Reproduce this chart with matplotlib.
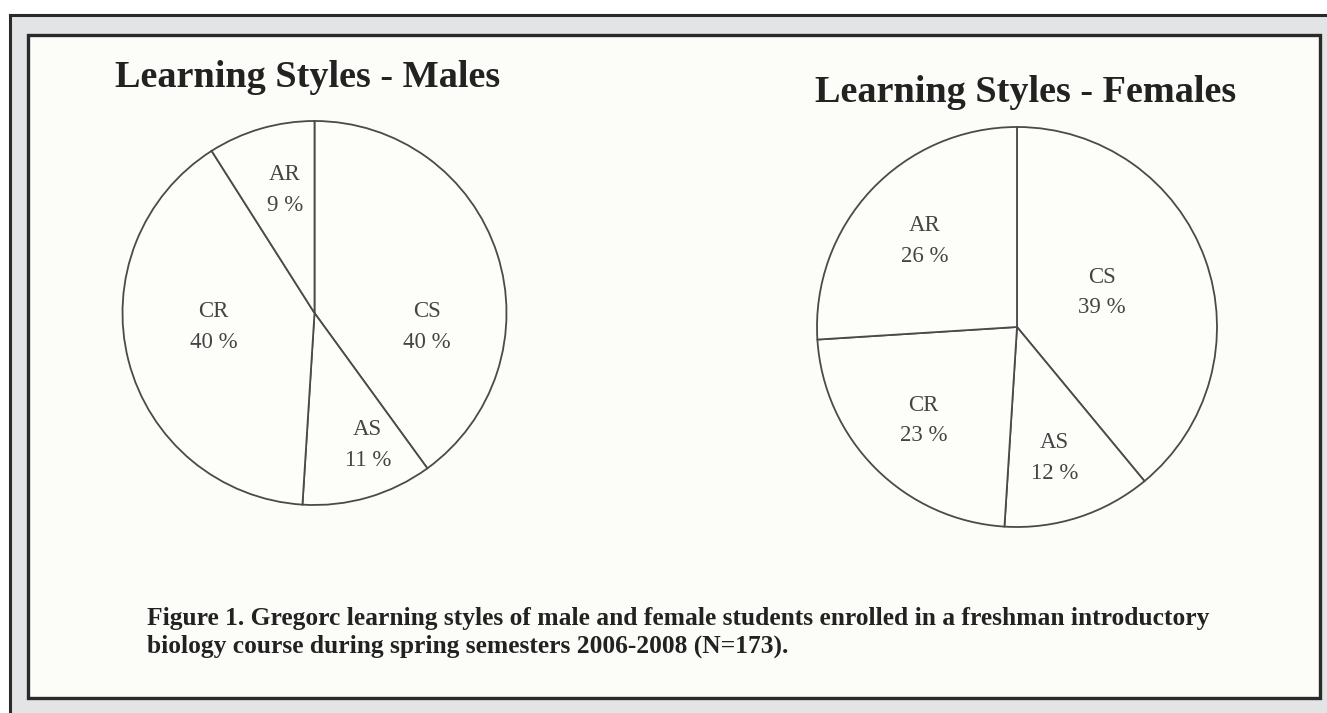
import matplotlib
matplotlib.use("Agg")
import matplotlib.pyplot as plt
from matplotlib.patches import Rectangle
import numpy as np

# data
categories_m = ["CS", "AS", "CR", "AR"]
values_m = [40, 11, 40, 9]
categories_f = ["CS", "AS", "CR", "AR"]
values_f = [39, 12, 23, 26]

title_m = "Learning Styles - Males"
title_f = "Learning Styles - Females"
caption = ["Figure 1. Gregorc learning styles of male and female students enrolled in a freshman introductory",
           "biology course during spring semesters 2006-2008 (N=173)."]

# label placement (radius fraction, angle in degrees)
label_pos_m = [(0.59, -7), (0.74, -68), (0.53, 188), (0.66, 103.5)]
label_pos_f = [(0.46, 22), (0.68, -74), (0.66, 225), (0.63, 137)]

W, H = 1327, 713
plt.rcParams['font.family'] = ['Liberation Serif', 'DejaVu Serif']

fig = plt.figure(figsize=(W / 100, H / 100), dpi=100)
fig.patch.set_facecolor("white")


def fx(px):
    return px / W


def fy(py):
    return 1 - py / H


# outer gray band with dark top/left line
fig.patches.append(Rectangle((fx(10), 0), 1 - fx(10), fy(15), transform=fig.transFigure,
                             facecolor="#e3e4e6", edgecolor="none", zorder=-3))
fig.add_artist(plt.Line2D([fx(10), 1], [fy(15), fy(15)], transform=fig.transFigure,
                          color="#2a2a2a", lw=2.2, zorder=-2))
fig.add_artist(plt.Line2D([fx(10), fx(10)], [fy(15), 0], transform=fig.transFigure,
                          color="#2a2a2a", lw=2.2, zorder=-2))
# inner frame
fig.patches.append(Rectangle((fx(28), fy(698)), fx(1320) - fx(28), fy(35) - fy(698),
                             transform=fig.transFigure, facecolor="#fcfdf8",
                             edgecolor="#2a2a2a", lw=2.4, zorder=-1))


def draw_pie(cx, cy, r, vals, cats, lpos):
    ax = fig.add_axes([fx(cx - r), fy(cy + r), 2 * r / W, 2 * r / H])
    ax.set_zorder(2)
    wedges, _ = ax.pie(vals, startangle=90, counterclock=False,
                       wedgeprops=dict(facecolor="#fdfdfa", edgecolor="#4a4a4a", linewidth=1.3))
    for w in wedges:
        w.set_clip_on(False)
    for cat, v, (rr, ang) in zip(cats, vals, lpos):
        a = np.deg2rad(ang)
        ax.text(rr * np.cos(a), rr * np.sin(a), f"{cat}\n{v} %", ha="center", va="center",
                fontsize=16.5, color="#444444", linespacing=1.6)
    ax.set_xlim(-1, 1)
    ax.set_ylim(-1, 1)
    ax.set_aspect("equal")
    ax.axis("off")
    return ax


draw_pie(314.5, 313, 192, values_m, categories_m, label_pos_m)
draw_pie(1017, 327, 200, values_f, categories_f, label_pos_f)

fig.text(fx(115), fy(87), title_m, fontsize=27.5, fontweight="bold", color="#222222",
         ha="left", va="baseline")
fig.text(fx(815), fy(102), title_f, fontsize=27.5, fontweight="bold", color="#222222",
         ha="left", va="baseline")

fig.text(fx(147), fy(625), caption[0], fontsize=18.4, fontweight="bold", color="#222222",
         ha="left", va="baseline")
fig.text(fx(147), fy(653), caption[1], fontsize=18.4, fontweight="bold", color="#222222",
         ha="left", va="baseline")

fig.savefig("out.png", dpi=100)
